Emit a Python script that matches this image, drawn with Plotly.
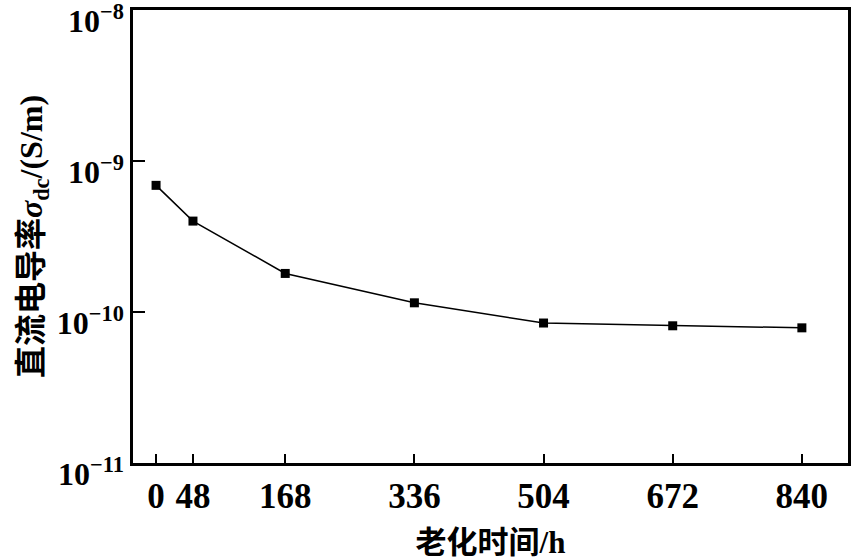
import math
import plotly.graph_objects as go

aging_hours = [0, 48, 168, 336, 504, 672, 840]
conductivity = [6.9e-10, 4.0e-10, 1.8e-10, 1.15e-10, 8.45e-11, 8.1e-11, 7.85e-11]
x_ticks = [0, 48, 168, 336, 504, 672, 840]
y_tickvals = [1e-11, 1e-10, 1e-9, 1e-8]
y_ticktext = ["10<sup>−11</sup>", "10<sup>−10</sup>", "10<sup>−9</sup>", "10<sup>−8</sup>"]
y_minor = [m * 10.0 ** e for e in (-11, -10, -9) for m in range(2, 10)]

FONT = "Liberation Serif, Times New Roman, Noto Sans CJK SC, serif"
XRANGE = [-30, 900]
YRANGE = [-11.0005, -7.9995]
PLOT_W = 853 - 133 - 5

fig = go.Figure()
fig.add_trace(go.Scatter(
    x=aging_hours, y=conductivity, mode="lines+markers",
    line=dict(color="black", width=1.5),
    marker=dict(symbol="square", size=9, color="black"),
    showlegend=False,
))

# minor ticks of the log axis (inside, short); shapes on log axes use log10 units
for v in y_minor:
    lv = math.log10(v)
    fig.add_shape(
        type="line", xref="paper", yref="y",
        x0=0, x1=6.0 / PLOT_W, y0=lv, y1=lv,
        line=dict(color="black", width=2), layer="above",
    )

fig.update_layout(
    width=853, height=560,
    margin=dict(l=133, r=5, t=10, b=97),
    paper_bgcolor="white", plot_bgcolor="white",
    font=dict(family=FONT, color="black", size=30),
)
fig.update_xaxes(
    range=XRANGE, tickvals=x_ticks, ticktext=[str(v) for v in x_ticks],
    ticks="inside", ticklen=9, tickwidth=2, tickcolor="black",
    showline=True, linewidth=2.5, linecolor="black", mirror=True,
    showgrid=False, zeroline=False, automargin=False,
    tickfont=dict(size=35, family=FONT, weight="bold"),
    title=dict(text="老化时间/h", font=dict(size=31, family=FONT, weight="bold"), standoff=22),
)
fig.update_yaxes(
    type="log", range=YRANGE, tickmode="array", tickvals=y_tickvals, ticktext=y_ticktext,
    ticks="inside", ticklen=12, tickwidth=2, tickcolor="black",
    ticklabeloverflow="allow", ticklabelshift=11, automargin=False,
    showline=True, linewidth=2.5, linecolor="black", mirror=True,
    showgrid=False, zeroline=False,
    tickfont=dict(size=32, family=FONT, weight="bold"),
    title=dict(text="直流电导率<i>σ</i><sub>dc</sub>/(S/m)", font=dict(size=32, family=FONT, weight="bold"), standoff=5),
)
fig.write_html("out.html")
